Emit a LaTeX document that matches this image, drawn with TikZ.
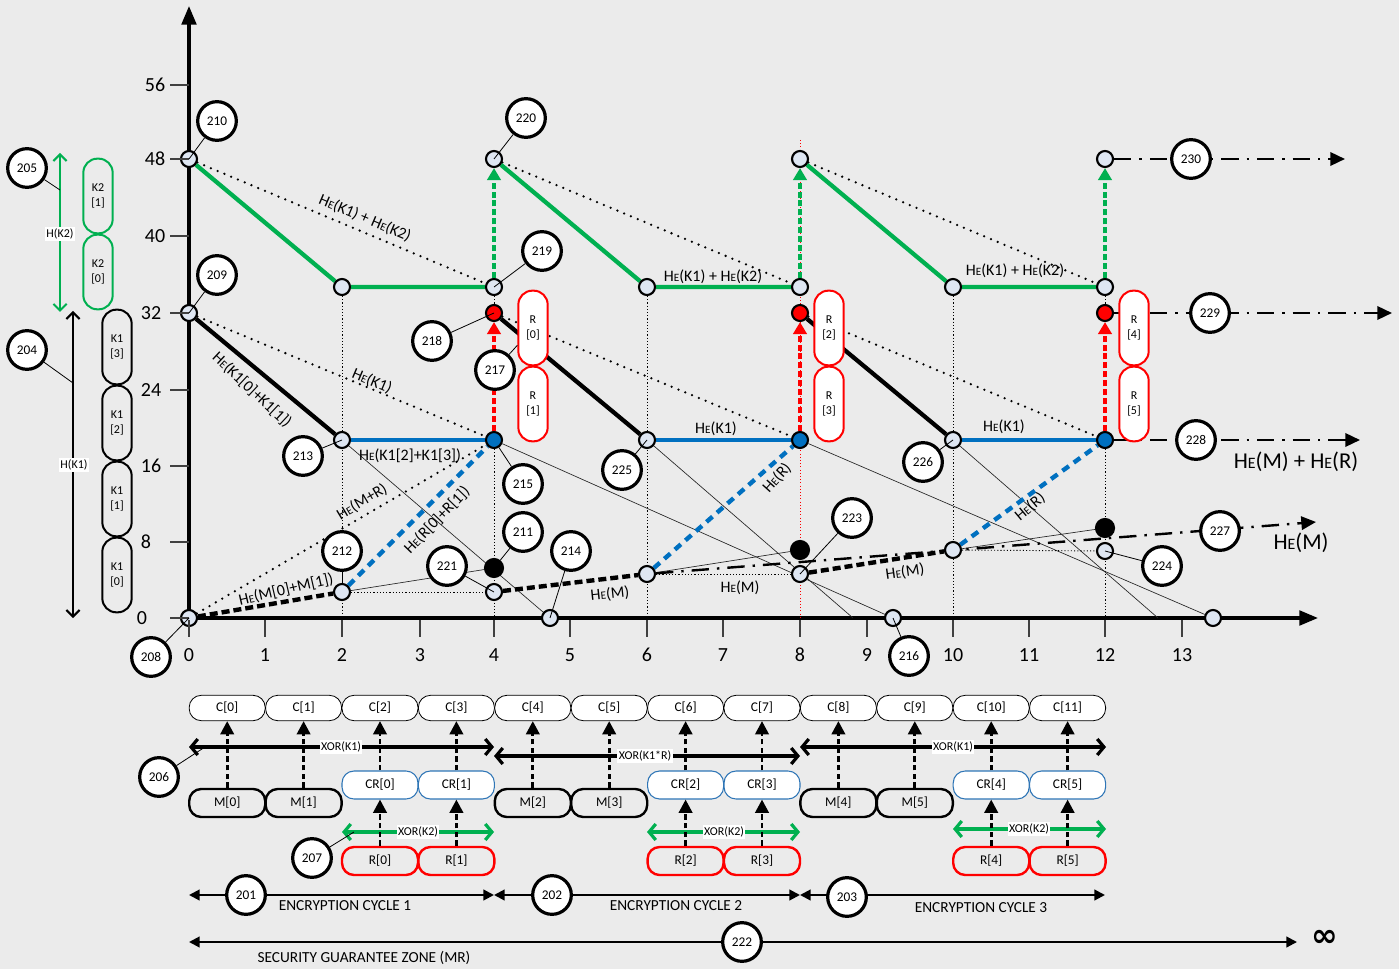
\documentclass[tikz,border=0pt]{standalone}
\usepackage{fontspec}
\setmainfont{Carlito}
\newfontfamily\djv{DejaVu Sans}
\usepackage{graphicx}
\usetikzlibrary{arrows.meta}
\definecolor{bgc}{RGB}{235,235,235}
\definecolor{grn}{RGB}{0,176,80}
\definecolor{blu}{RGB}{0,112,192}
\definecolor{redx}{RGB}{255,0,0}
\definecolor{ptf}{RGB}{222,230,242}
\definecolor{crb}{RGB}{46,117,182}
\newcommand{\HEs}{H\scalebox{0.7}{E}}
\pgfdeclarelayer{back}
\pgfdeclarelayer{bg}
\pgfsetlayers{back,bg,main}
\begin{document}
\begin{tikzpicture}[x=0.75pt,y=-0.75pt,
  dnode/.style={circle,draw,line width=1.6pt,fill=ptf,minimum size=12pt,inner sep=0pt},
  rnode/.style={dnode,fill=redx},
  bnode/.style={dnode,fill=blu},
  knode/.style={dnode,fill=black,minimum size=13.5pt},
  callout/.style={circle,draw,line width=2.4pt,fill=white,minimum size=29pt,inner sep=0pt,font=\fontsize{10}{10}\selectfont},
  leader/.style={line width=0.6pt},
  gline/.style={grn,line width=3.2pt},
  kline/.style={black,line width=3.2pt},
  bline/.style={blu,line width=3.2pt},
  garrow/.style={grn,line width=2.6pt,dash pattern=on 4.5pt off 2.2pt,-{Triangle[length=9pt,width=10pt]}},
  rarrow/.style={redx,line width=2.6pt,dash pattern=on 4.5pt off 2.2pt,-{Triangle[length=9pt,width=10pt]}},
  bdash/.style={blu,line width=3.3pt,dash pattern=on 6pt off 4.5pt},
  kdash/.style={black,line width=3.3pt,dash pattern=on 6pt off 3pt},
  ldots/.style={line width=1.9pt,dash pattern=on 0pt off 5.5pt,line cap=round},
  vdot/.style={line width=0.7pt,dash pattern=on 0.8pt off 1.6pt},
  thinl/.style={line width=0.5pt,black!85},
  ddash/.style={line width=1.8pt,dash pattern=on 13pt off 6pt on 1.8pt off 6pt,-{Triangle[length=11pt,width=10pt]}},
  lbl/.style={font=\fontsize{12}{12}\selectfont,inner sep=1pt},
  big/.style={font=\fontsize{17}{17}\selectfont,inner sep=1pt},
  ticklbl/.style={font=\fontsize{15}{15}\selectfont,inner sep=0pt},
  vpill/.style={draw,rectangle,rounded corners=10.5pt,minimum width=22pt,minimum height=56pt,inner sep=0pt,align=center,line width=1.5pt,font=\fontsize{9}{11}\selectfont},
  hbox/.style={draw,rectangle,rounded corners=9pt,minimum width=57pt,minimum height=21pt,inner sep=0pt,font=\fontsize{10}{10}\selectfont},
  varrow/.style={line width=2.2pt,dash pattern=on 4pt off 2.5pt,-{Triangle[length=10pt,width=10pt]}},
  xorarr/.style={line width=2.4pt,{Straight Barb[length=5pt,width=12pt]}-{Straight Barb[length=5pt,width=12pt]}},
  cyc/.style={line width=1.6pt,{Triangle[length=8pt,width=8pt]}-{Triangle[length=8pt,width=8pt]}},
  xorlbl/.style={fill=white,inner sep=1pt,font=\fontsize{9}{9}\selectfont},
  dbl/.style={line width=1.5pt,{Straight Barb[length=5pt,width=10pt]}-{Straight Barb[length=5pt,width=10pt]}},
  captxt/.style={font=\fontsize{11.5}{12}\selectfont,inner sep=0pt}
]
\begin{pgfonlayer}{back}
\fill[bgc] (0,0) rectangle (1399,969);
\end{pgfonlayer}
\useasboundingbox (0,0) rectangle (1399,969);

% ---------- graph points ----------
\node[dnode] (a48) at (189,159) {};
\node[dnode] (a32) at (189,313) {};
\node[dnode] (a0) at (189,618) {};
\node[dnode] (g1) at (342,287) {};
\node[dnode] (g2) at (494,287) {};
\node[dnode] (top1) at (494,159) {};
\node[dnode] (k1) at (342,440) {};
\node[rnode] (r1) at (494,313) {};
\node[bnode] (b1) at (494,440) {};
\node[dnode] (g3) at (647,287) {};
\node[dnode] (g4) at (800,287) {};
\node[dnode] (top2) at (800,159) {};
\node[dnode] (k2) at (647,440) {};
\node[rnode] (r2) at (800,313) {};
\node[bnode] (b2) at (800,440) {};
\node[dnode] (g5) at (953,287) {};
\node[dnode] (g6) at (1105,287) {};
\node[dnode] (top3) at (1105,159) {};
\node[dnode] (k3) at (953,440) {};
\node[rnode] (r3) at (1105,313) {};
\node[bnode] (b3) at (1105,440) {};
\node[dnode] (m1) at (342,592) {};
\node[dnode] (m2) at (494,592) {};
\node[knode] (d1) at (494,568) {};
\node[dnode] (m3) at (647,574) {};
\node[dnode] (m4) at (800,574) {};
\node[knode] (d2) at (800,550) {};
\node[dnode] (m5) at (953,550) {};
\node[dnode] (m6) at (1105,551) {};
\node[knode] (d3) at (1105,528) {};
\node[dnode] (x1) at (550,618) {};
\node[dnode] (x2) at (893,618) {};
\node[dnode] (x3) at (1213,618) {};

\coordinate (yend) at (189,6);
\coordinate (xend) at (1318,618);
\coordinate (t2) at (342,618);
\coordinate (t4) at (494,618);
\coordinate (t6) at (647,618);
\coordinate (t8) at (800,618);
\coordinate (t10) at (953,618);
\coordinate (t12) at (1105,618);
\coordinate (rtop) at (800,140);
\coordinate (e1) at (853,618);
\coordinate (e2) at (1158,618);
\coordinate (e227) at (1316,522);
\coordinate (e228) at (1360,440);
\coordinate (e229) at (1392,313);
\coordinate (e230) at (1345,159);

% R pills in graph
\node[vpill,draw=redx,fill=white] (gr0) at (533,328) {R\\{[0]}};
\node[vpill,draw=redx,fill=white] (gr1) at (533,404) {R\\{[1]}};
\node[vpill,draw=redx,fill=white] (gr2) at (829,328) {R\\{[2]}};
\node[vpill,draw=redx,fill=white] (gr3) at (829,404) {R\\{[3]}};
\node[vpill,draw=redx,fill=white] (gr4) at (1134,328) {R\\{[4]}};
\node[vpill,draw=redx,fill=white] (gr5) at (1134,404) {R\\{[5]}};

% Left key pills
\node[vpill,draw=grn] (k21) at (98,196) {K2\\{[1]}};
\node[vpill,draw=grn] (k20) at (98,272) {K2\\{[0]}};
\node[vpill] (k13) at (117,347) {K1\\{[3]}};
\node[vpill] (k12) at (117,423) {K1\\{[2]}};
\node[vpill] (k11) at (117,499) {K1\\{[1]}};
\node[vpill] (k10) at (117,575) {K1\\{[0]}};
\coordinate (hk2a) at (60,153);
\coordinate (hk2b) at (60,312);
\coordinate (hk1a) at (73,311);
\coordinate (hk1b) at (73,618);
\draw[dbl,grn] (hk2a) -- (hk2b);
\draw[dbl] (hk1a) -- (hk1b);
\node[fill=white,inner sep=1pt,font=\fontsize{9}{9}\selectfont] (hk2l) at (60,234) {H(K2)};
\node[fill=white,inner sep=1pt,font=\fontsize{9}{9}\selectfont] (hk1l) at (74,465) {H(K1)};
\coordinate (l205) at (60,190);
\coordinate (l204) at (73,383);

\begin{pgfonlayer}{bg}
% axes
\draw[line width=2.4pt,-{Triangle[length=14pt,width=11pt]}] (a0.center) -- (yend);
\draw[line width=2.4pt,-{Triangle[length=14pt,width=11pt]}] (a0.center) -- (xend);
% vertical dotted guides
\draw[vdot] (g1) -- (t2);
\draw[vdot] (b1) -- (t4);
\draw[vdot] (g2) -- (r1);
\draw[vdot] (g3) -- (t6);
\draw[vdot,redx] (rtop) -- (t8);
\draw[vdot] (g5) -- (t10);
\draw[vdot] (b3) -- (t12);
\draw[vdot] (g6) -- (r3);
% thin lines
\draw[thinl] (k1) -- (x1);
\draw[thinl] (b1) -- (x2);
\draw[thinl] (k2) -- (e1);
\draw[thinl] (b2) -- (x3);
\draw[thinl] (k3) -- (e2);
\draw[thinl] (m1) -- (d1);
\draw[thinl] (m3) -- (d2);
\draw[thinl] (m5) -- (d3);
\draw[vdot] (m1) -- (m2);
\draw[vdot] (m3) -- (m4);
\draw[vdot] (m5) -- (m6);
% loose dotted lines
\draw[ldots] (a48) -- (g2);
\draw[ldots] (a32) -- (b1);
\draw[ldots] (top1) -- (g4);
\draw[ldots] (r1) -- (b2);
\draw[ldots] (top2) -- (g6);
\draw[ldots] (r2) -- (b3);
\draw[ldots] (a0) -- (b1);
% thick lines
\draw[gline] (a48) -- (g1) -- (g2);
\draw[gline] (top1) -- (g3) -- (g4);
\draw[gline] (top2) -- (g5) -- (g6);
\draw[kline] (a32) -- (k1);
\draw[kline] (r1) -- (k2);
\draw[kline] (r2) -- (k3);
\draw[bline] (k1) -- (b1);
\draw[bline] (k2) -- (b2);
\draw[bline] (k3) -- (b3);
\draw[garrow] (g2) -- (top1);
\draw[garrow] (g4) -- (top2);
\draw[garrow] (g6) -- (top3);
\draw[rarrow] (b1) -- (r1);
\draw[rarrow] (b2) -- (r2);
\draw[rarrow] (b3) -- (r3);
\draw[bdash] (m1) -- (b1);
\draw[bdash] (m3) -- (b2);
\draw[bdash] (m5) -- (b3);
\draw[kdash] (a0) -- (m1);
\draw[kdash] (m2) -- (m3);
\draw[kdash] (m4) -- (m5);
% dash-dot continuations
\draw[ddash] (m3) -- (e227);
\draw[ddash] (b3) -- (e228);
\draw[ddash] (r3) -- (e229);
\draw[ddash] (top3) -- (e230);
\end{pgfonlayer}

% ticks
\foreach \v/\yy/\lx in {56/85/155,48/159/155,40/236/155,32/313/151,24/390/151,16/466/151,8/542/146,0/618/142}{
  \coordinate (ya\v) at (170,\yy);
  \coordinate (yb\v) at (189,\yy);
  \draw[line width=0.9pt,black!75] (ya\v) -- (yb\v);
  \node[ticklbl] (yl\v) at (\lx,\yy) {\v};
}
\foreach \u/\xx in {0/189,1/265,2/342,3/420,4/494,5/570,6/647,7/723,8/800,9/867,10/953,11/1029,12/1105,13/1182}{
  \coordinate (xa\u) at (\xx,620);
  \coordinate (xb\u) at (\xx,637);
  \draw[line width=0.9pt,black!75] (xa\u) -- (xb\u);
  \node[ticklbl] (xl\u) at (\xx,655) {\u};
}

% graph labels
\node[lbl,rotate=-23] (L1) at (365,218) {\HEs(K1) + \HEs(K2)};
\node[lbl,rotate=-23] (L2) at (372,381) {\HEs(K1)};
\node[lbl,rotate=-43] (L3) at (252,390) {\HEs(K1[0]+K1[1])};
\node[lbl] (L4) at (410,456) {\HEs(K1[2]+K1[3])};
\node[lbl,rotate=31] (L5) at (362,502) {\HEs(M+R)};
\node[lbl,rotate=46] (L6) at (437,520) {\HEs(R[0]+R[1])};
\node[lbl,rotate=13] (L7) at (286,590) {\HEs(M[0]+M[1])};
\node[lbl,rotate=6] (L8) at (610,594) {\HEs(M)};
\node[lbl] (L9) at (740,588) {\HEs(M)};
\node[lbl,rotate=8] (L10) at (905,572) {\HEs(M)};
\node[lbl,rotate=48] (L11) at (777,478) {\HEs(R)};
\node[lbl,rotate=40] (L12) at (1030,507) {\HEs(R)};
\node[lbl] (L13) at (716,429) {\HEs(K1)};
\node[lbl] (L14) at (1004,427) {\HEs(K1)};
\node[lbl] (L15) at (713,277) {\HEs(K1) + \HEs(K2)};
\node[lbl] (L16) at (1015,271) {\HEs(K1) + \HEs(K2)};
\node[big] (L17) at (1296,462) {\HEs(M) + \HEs(R)};
\node[big] (L18) at (1301,543) {\HEs(M)};

% callouts
\node[callout] (c210) at (217,121) {210};
\node[callout] (c220) at (526,118) {220};
\node[callout] (c205) at (27,168) {205};
\node[callout] (c209) at (217,275) {209};
\node[callout] (c219) at (542,251) {219};
\node[callout] (c204) at (27,350) {204};
\node[callout] (c218) at (432,341) {218};
\node[callout] (c217) at (495,370) {217};
\node[callout] (c213) at (303,456) {213};
\node[callout] (c215) at (523,484) {215};
\node[callout] (c211) at (523,532) {211};
\node[callout] (c212) at (342,551) {212};
\node[callout] (c221) at (447,566) {221};
\node[callout] (c214) at (571,551) {214};
\node[callout] (c225) at (622,470) {225};
\node[callout] (c223) at (852,518) {223};
\node[callout] (c226) at (923,462) {226};
\node[callout] (c224) at (1162,566) {224};
\node[callout] (c227) at (1220,531) {227};
\node[callout] (c228) at (1196,440) {228};
\node[callout] (c229) at (1210,313) {229};
\node[callout] (c230) at (1191,159) {230};
\node[callout] (c208) at (151,657) {208};
\node[callout] (c216) at (909,656) {216};

\draw[leader] (c210) -- (a48.center);
\draw[leader] (c220) -- (top1.center);
\draw[leader] (c205) -- (l205);
\draw[leader] (c209) -- (a32.center);
\draw[leader] (c219) -- (g2.center);
\draw[leader] (c204) -- (l204);
\draw[leader] (c218) -- (r1.center);
\draw[leader] (c217) -- (gr0);
\draw[leader] (c213) -- (k1.center);
\draw[leader] (c215) -- (b1);
\draw[leader] (c211) -- (d1);
\draw[leader] (c212) -- (m1);
\draw[leader] (c221) -- (m2.center);
\draw[leader] (c214) -- (x1.center);
\draw[leader] (c225) -- (k2.center);
\draw[leader] (c223) -- (m4.center);
\draw[leader] (c226) -- (k3.center);
\draw[leader] (c224) -- (m6.center);
\draw[leader] (c208) -- (a0.center);
\draw[leader] (c216) -- (x2.center);

% ---------- bottom rows ----------
\foreach \i in {0,...,11}{
  \node[hbox,fill=white,line width=0.6pt,minimum height=19pt] (cb\i) at ({189+76.4*(\i+0.5)},708) {C[\i]};
}
\coordinate (xa1) at (189,747);
\coordinate (xb1) at (494,747);
\coordinate (xa2) at (494,756);
\coordinate (xb2) at (800,756);
\coordinate (xa3) at (800,747);
\coordinate (xb3) at (1106,747);
\draw[xorarr] (xa1) -- (xb1);
\draw[xorarr] (xa2) -- (xb2);
\draw[xorarr] (xa3) -- (xb3);
\coordinate (ga1) at (342,832);
\coordinate (gb1) at (494,832);
\coordinate (ga2) at (647,832);
\coordinate (gb2) at (800,832);
\coordinate (ga3) at (953,829);
\coordinate (gb3) at (1106,829);
\draw[xorarr,grn] (ga1) -- (gb1);
\draw[xorarr,grn] (ga2) -- (gb2);
\draw[xorarr,grn] (ga3) -- (gb3);

\foreach \k/\s in {0/0,1/1,2/4,3/5,4/8,5/9}{
  \node[hbox,line width=1.8pt] (mb\k) at ({189+76.4*(\s+0.5)},803) {M[\k]};
  \draw[varrow] (mb\k.north) -- (cb\s.south);
}
\foreach \k/\s in {0/2,1/3,2/6,3/7,4/10,5/11}{
  \node[hbox,draw=crb,fill=white,line width=0.8pt] (crb\k) at ({189+76.4*(\s+0.5)},785) {CR[\k]};
  \node[hbox,draw=redx,line width=1.8pt] (rb\k) at ({189+76.4*(\s+0.5)},861) {R[\k]};
  \draw[varrow] (crb\k.north) -- (cb\s.south);
  \draw[varrow] (rb\k.north) -- (crb\k.south);
}
\node[xorlbl] (x1l) at (341,747) {XOR(K1)};
\node[xorlbl] (x2l) at (645,756) {XOR(K1*R)};
\node[xorlbl] (x3l) at (953,747) {XOR(K1)};
\node[xorlbl] (x4l) at (418,832) {XOR(K2)};
\node[xorlbl] (x5l) at (724,832) {XOR(K2)};
\node[xorlbl] (x6l) at (1029,829) {XOR(K2)};

\node[callout] (c206) at (159,777) {206};
\node[callout] (c207) at (312,858) {207};
\coordinate (l206) at (205,747);
\coordinate (l207) at (354,832);
\draw[leader] (c206) -- (l206);
\draw[leader] (c207) -- (l207);

% cycles
\coordinate (cy0) at (189,895);
\coordinate (cy1) at (494,895);
\coordinate (cy2) at (800,895);
\coordinate (cy3) at (1105,895);
\draw[cyc] (cy0) -- (cy1);
\draw[cyc] (cy1) -- (cy2);
\draw[cyc] (cy2) -- (cy3);
\coordinate (sz0) at (189,942);
\coordinate (sz1) at (1297,942);
\draw[cyc] (sz0) -- (sz1);
\node[callout] (c201) at (246,895) {201};
\node[callout] (c202) at (552,895) {202};
\node[callout] (c203) at (847,897) {203};
\node[callout] (c222) at (742,942) {222};
\node[captxt] (cap1) at (345,906) {ENCRYPTION CYCLE 1};
\node[captxt] (cap2) at (676,906) {ENCRYPTION CYCLE 2};
\node[captxt] (cap3) at (981,908) {ENCRYPTION CYCLE 3};
\node[captxt] (cap4) at (364,958) {SECURITY GUARANTEE ZONE (MR)};
\node[inner sep=0pt] (inf) at (1325,938) {\fontsize{24}{24}\selectfont\djv\bfseries ∞};
\end{tikzpicture}
\end{document}
